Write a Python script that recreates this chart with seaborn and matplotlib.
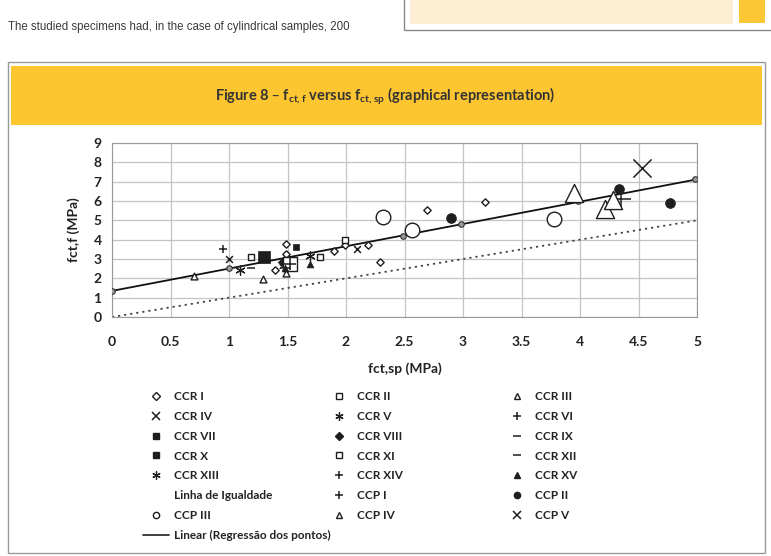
import numpy as np
import pandas as pd
import matplotlib.pyplot as plt
import seaborn as sns
from matplotlib.lines import Line2D
from matplotlib.patches import Rectangle

# dados (fct,sp ; fct,f)
ccr1_x = [1.39, 1.49, 1.49, 1.90, 1.99, 2.19, 2.29, 2.69, 3.19]
ccr1_y = [2.42, 3.80, 3.25, 3.43, 3.75, 3.70, 2.82, 5.53, 5.94]
ccr2_x = [1.19, 1.78, 1.99]
ccr2_y = [3.12, 3.12, 3.97]
ccr3_x = [0.70, 1.29, 1.49]
ccr3_y = [2.10, 1.95, 2.27]
ccr4_x = [1.00, 2.09]
ccr4_y = [3.00, 3.53]
ccr5_x = [1.46]
ccr5_y = [2.62]
ccr6_x = [0.95]
ccr6_y = [3.53]
ccr7_x = [1.57]
ccr7_y = [3.60]
ccr8_x = [1.45]
ccr8_y = [2.85]
ccr9_x = [1.19]
ccr9_y = [2.53]
ccr10_x = [1.30]
ccr10_y = [3.12]
ccr11_x = [1.52]
ccr11_y = [2.75]
ccr12_x = [1.50]
ccr12_y = [2.55]
ccr13_x = [1.09, 1.69]
ccr13_y = [2.43, 3.18]
ccr14_x = [1.52]
ccr14_y = [2.75]
ccr15_x = [1.48, 1.69]
ccr15_y = [2.55, 2.72]
ccp1_x = [4.35]
ccp1_y = [6.10]
ccp2_x = [2.90, 4.33, 4.77]
ccp2_y = [5.13, 6.62, 5.89]
ccp3_x = [2.32, 2.56, 3.78]
ccp3_y = [5.16, 4.52, 5.07]
ccp4_x = [3.95, 4.21, 4.28]
ccp4_y = [6.43, 5.58, 6.05]
ccp5_x = [4.53]
ccp5_y = [7.72]

# pontos sobre a reta de regressão
reg_pts_x = [0.0, 1.0, 2.49, 2.98, 3.98, 4.98]
reg_pts_y = [1.36, 2.52, 4.21, 4.80, 6.00, 7.12]

# retas
reg_x = [0, 5]
reg_y = [1.35, 7.12]
eq_x = [0, 5]
eq_y = [0, 5]

x_ticks = [0, 0.5, 1, 1.5, 2, 2.5, 3, 3.5, 4, 4.5, 5]
x_labels = ['0', '0.5', '1', '1.5', '2', '2.5', '3', '3.5', '4', '4.5', '5']
y_ticks = list(range(10))

sns.set_style('white')
plt.rcParams['font.family'] = ['Lato', 'DejaVu Sans']

K = '#1e1e1e'
# (label, x, y, marker, size, tipo)  tipo: f = cheio, o = vazado, l = linha
series = [
    ('CCR I', ccr1_x, ccr1_y, 'D', 14, 'o'),
    ('CCR II', ccr2_x, ccr2_y, 's', 22, 'o'),
    ('CCR III', ccr3_x, ccr3_y, '^', 24, 'o'),
    ('CCR IV', ccr4_x, ccr4_y, 'x', 24, 'l'),
    ('CCR V', ccr5_x, ccr5_y, (6, 2, 0), 30, 'l'),
    ('CCR VI', ccr6_x, ccr6_y, '+', 30, 'l'),
    ('CCR VII', ccr7_x, ccr7_y, 's', 18, 'f'),
    ('CCR VIII', ccr8_x, ccr8_y, 'D', 18, 'f'),
    ('CCR IX', ccr9_x, ccr9_y, '_', 36, 'l'),
    ('CCR X', ccr10_x, ccr10_y, 's', 70, 'f'),
    ('CCR XI', ccr11_x, ccr11_y, 's', 110, 'o'),
    ('CCR XII', ccr12_x, ccr12_y, '_', 16, 'l'),
    ('CCR XIII', ccr13_x, ccr13_y, (6, 2, 0), 45, 'l'),
    ('CCR XIV', ccr14_x, ccr14_y, '+', 70, 'l'),
    ('CCR XV', ccr15_x, ccr15_y, '^', 24, 'f'),
    ('Linha de Igualdade', None, None, None, 0, None),
    ('CCP I', ccp1_x, ccp1_y, '+', 200, 'l'),
    ('CCP II', ccp2_x, ccp2_y, 'o', 50, 'f'),
    ('CCP III', ccp3_x, ccp3_y, 'o', 110, 'o'),
    ('CCP IV', ccp4_x, ccp4_y, '^', 170, 'o'),
    ('CCP V', ccp5_x, ccp5_y, 'x', 170, 'l'),
]

fig = plt.figure(figsize=(7.71, 5.56), dpi=100)

# caixa do texto superior
fig.text(8 / 771, 1 - 27 / 556, 'The studied specimens had, in the case of cylindrical samples, 200',
         fontsize=8.3, color='#3a3a3a', family=['Liberation Sans', 'DejaVu Sans'], va='center')
fig.patches.append(Rectangle((404 / 771, 1 - 30 / 556), 0.6, 0.1, transform=fig.transFigure,
                             facecolor='white', edgecolor='#8a8a8a', lw=1, zorder=-3))
fig.patches.append(Rectangle((410 / 771, 1 - 24 / 556), 323 / 771, 0.1, transform=fig.transFigure,
                             facecolor='#fdefd3', edgecolor='none', zorder=-2))
fig.patches.append(Rectangle((739 / 771, 1 - 23 / 556), 26 / 771, 0.1, transform=fig.transFigure,
                             facecolor='#fcc734', edgecolor='none', zorder=-2))

# moldura da figura
fig.patches.append(Rectangle((8 / 771, 1 - 553 / 556), 757 / 771, 491 / 556, transform=fig.transFigure,
                             facecolor='white', edgecolor='#9a9a9a', lw=1, zorder=-3))
fig.patches.append(Rectangle((11 / 771, 1 - 125 / 556), 751 / 771, 59 / 556, transform=fig.transFigure,
                             facecolor='#fdc530', edgecolor='none', zorder=-2))
fig.text(0.5, 1 - 96 / 556,
         r'Figure 8 – f$_{\mathregular{ct,f}}$ versus f$_{\mathregular{ct,sp}}$ (graphical representation)',
         ha='center', va='center', fontsize=10.5, fontweight='bold', color='#333333')

ax = fig.add_axes([112 / 771, 1 - 317 / 556, 585 / 771, 174 / 556])
ax.patch.set_alpha(0)

sns.lineplot(x=eq_x, y=eq_y, ax=ax, color='#444444', linestyle=(0, (1.2, 2.2)), lw=1.3)
sns.lineplot(x=reg_x, y=reg_y, ax=ax, color='#111111', lw=1.3)
sns.scatterplot(x=reg_pts_x, y=reg_pts_y, ax=ax, marker='o', s=16, facecolor='#9a9a9a',
                edgecolor='#333333', linewidth=0.8, zorder=4)

handles = []
for lab, xs, ys, mk, sz, kind in series:
    if xs is None:
        handles.append(Line2D([], [], linestyle='none', marker='none', label=lab))
        continue
    if kind == 'f':
        sns.scatterplot(x=xs, y=ys, ax=ax, marker=mk, s=sz, color=K, edgecolor=K, linewidth=0.5, zorder=5)
        handles.append(Line2D([], [], linestyle='none', marker=mk, ms=4.5, color=K, label=lab))
    elif kind == 'o':
        sns.scatterplot(x=xs, y=ys, ax=ax, marker=mk, s=sz, facecolor='white', edgecolor=K,
                        linewidth=1.0, zorder=5)
        handles.append(Line2D([], [], linestyle='none', marker=mk, ms=4.5, mfc='white', mec=K,
                              mew=1.0, label=lab))
    else:
        lw = 0.9 if isinstance(mk, tuple) else 1.1
        sns.scatterplot(x=xs, y=ys, ax=ax, marker=mk, s=sz, color=K, linewidth=lw, zorder=5)
        handles.append(Line2D([], [], linestyle='none', marker=mk, ms=6, color=K, mew=lw, label=lab))
handles.append(Line2D([], [], color=K, lw=1.2, label='Linear (Regressão dos pontos)'))

ax.set_xlim(0, 5)
ax.set_ylim(0, 9)
ax.set_xticks(x_ticks)
ax.set_xticklabels(x_labels)
ax.set_yticks(y_ticks)
ax.grid(True, color='#c4c4c4', lw=0.9)
ax.set_axisbelow(True)
for sp in ax.spines.values():
    sp.set_color('#9a9a9a')
ax.tick_params(axis='both', length=4, color='#9a9a9a', labelsize=10, labelcolor='#222222')
ax.tick_params(axis='x', pad=10)
for t in ax.get_xticklabels() + ax.get_yticklabels():
    t.set_fontweight('bold')
ax.set_xlabel('fct,sp (MPa)', fontsize=10, fontweight='bold', color='#222222', labelpad=10)
ax.set_ylabel('fct,f (MPa)', fontsize=10, fontweight='bold', color='#222222', labelpad=10)

# legenda em 3 colunas (ordem por linhas)
cols = [handles[0::3], handles[1::3], handles[2::3]]
lefts = [143, 326, 504]
for hs, lx in zip(cols, lefts):
    leg = fig.legend(handles=hs, loc='upper left', bbox_to_anchor=(lx / 771, 1 - 391 / 556),
                     frameon=False, fontsize=8.5, handlelength=2.2, handletextpad=0.4,
                     labelspacing=0.75, borderpad=0, borderaxespad=0)
    for t in leg.get_texts():
        t.set_fontweight('bold')
        t.set_color('#222222')

fig.savefig('out.png', dpi=100)
